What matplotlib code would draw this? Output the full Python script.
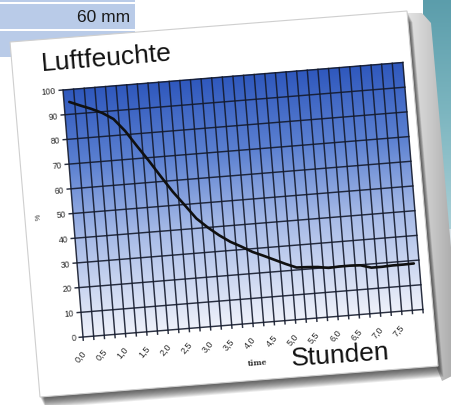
import numpy as np
import matplotlib
matplotlib.use("Agg")
import matplotlib.pyplot as plt
from matplotlib.transforms import Affine2D
from matplotlib.patches import Polygon, Rectangle
from matplotlib.colors import LinearSegmentedColormap

# ---------------- data ----------------
hours = [0.0, 0.25, 0.5, 0.75, 1.0, 1.25, 1.5, 1.75, 2.0, 2.25, 2.5, 2.75,
         3.0, 3.25, 3.5, 3.75, 4.0, 4.25, 4.5, 4.75, 5.0, 5.25, 5.5, 5.75,
         6.0, 6.25, 6.5, 6.75, 7.0, 7.25, 7.5, 7.75]
humidity = [95.0, 93.2, 91.5, 89.5, 86.7, 81.5, 75.0, 68.7, 62.0, 55.5, 49.8, 44.0,
            40.0, 36.5, 33.5, 31.2, 28.7, 26.8, 24.8, 22.8, 21.0, 20.8, 20.5, 19.8,
            20.0, 20.0, 19.8, 18.5, 18.5, 18.7, 18.7, 18.8]
x_tick_values = [0.0, 0.5, 1.0, 1.5, 2.0, 2.5, 3.0, 3.5, 4.0, 4.5, 5.0, 5.5, 6.0, 6.5, 7.0, 7.5]
x_tick_labels = ["0,0", "0,5", "1,0", "1,5", "2,0", "2,5", "3,0", "3,5", "4,0", "4,5",
                 "5,0", "5,5", "6,0", "6,5", "7,0", "7,5"]
y_tick_values = [0, 10, 20, 30, 40, 50, 60, 70, 80, 90, 100]
y_tick_labels = ["0", "10", "20", "30", "40", "50", "60", "70", "80", "90", "100"]
title_text = "Luftfeuchte"
unit_text = "Stunden"
x_axis_title = "time"
y_axis_title = "%"
header_text = "60 mm"

FONT = "Liberation Sans"
W, H = 452, 406
fig = plt.figure(figsize=(W / 100, H / 100), dpi=100)
fig.patch.set_facecolor("white")

# ---------------- background scene (image pixel coords) ----------------
bg = fig.add_axes([0, 0, 1, 1])
bg.set_xlim(0, W)
bg.set_ylim(H, 0)
bg.axis("off")

band_col = "#b9cbe8"
bg.add_patch(Rectangle((0, 0), 135, 2.5, color=band_col, lw=0))
bg.add_patch(Rectangle((0, 4.5), 135, 25, color=band_col, lw=0))
bg.add_patch(Rectangle((0, 32), 135, 26, color=band_col, lw=0))
bg.text(130, 17, header_text, ha="right", va="center", fontsize=12.5,
        family=FONT, color="#1a1a1a")

# teal panel on the right
teal = LinearSegmentedColormap.from_list("teal", ["#5b9dab", "#7db6c0", "#a9cfd6"])
tg = np.linspace(0, 1, 128).reshape(-1, 1)
bg.imshow(tg, cmap=teal, extent=(423, 452, 230, 0), aspect="auto", zorder=1,
          interpolation="bilinear")
bg.add_patch(Rectangle((436, 230), 16, 28, color="#dbe5ea", lw=0, zorder=1))

# card geometry
TL, TR, BR, BL = (10, 43), (407, 12), (438, 367), (40, 398)

# right-side curled shadow band
band_poly = Polygon([(405, 14), (422, 14), (431, 24), (462, 372), (442, 382), (436, 367)],
                    closed=True, fc="none", ec="none")
bg.add_patch(band_poly)
sg = LinearSegmentedColormap.from_list("sg", ["#e6e6e6", "#c6c6c6", "#a0a0a0"])
gimg = bg.imshow(np.linspace(0, 1, 128).reshape(1, -1), cmap=sg,
                 extent=(405, 462, 382, 14), aspect="auto", zorder=2,
                 interpolation="bilinear")
gimg.set_clip_path(band_poly)

# soft shadow under the card
for i in range(12):
    off = 1.0 + i * 0.9
    sh = Polygon([(TL[0] + off * 0.5, TL[1] + off), (TR[0] + off * 0.5, TR[1] + off),
                  (BR[0] + off * 0.5, BR[1] + off), (BL[0] + off * 0.5, BL[1] + off)],
                 closed=True, fc="#202020", ec="none", alpha=0.09, zorder=3)
    bg.add_patch(sh)

card = Polygon([TL, TR, BR, BL], closed=True, fc="white", ec="#cfcfcf", lw=0.8, zorder=4)
bg.add_patch(card)

bg.text(42, 71, title_text, ha="left", va="baseline", rotation=4.7,
        rotation_mode="anchor", fontsize=19, family=FONT, color="#111111", zorder=6)

# ---------------- chart (rotated axes) ----------------
X0, Y0, AW, AH = 83, 68, 341, 247.8
ANG = 4.63
ax = fig.add_axes([X0 / W, Y0 / H, AW / W, AH / H])
ax.axis("off")
rot = Affine2D().rotate_deg_around(X0, Y0, ANG)
T = ax.transData + rot

step = hours[1] - hours[0]
xmin, xmax = hours[0] - step / 2, hours[-1] + step / 2
ymin, ymax = y_tick_values[0], y_tick_values[-1]

grad_cmap = LinearSegmentedColormap.from_list(
    "bluegrad", [(0.0, "#eef1fa"), (0.4, "#a6bae7"), (0.7, "#5b80d1"), (1.0, "#2f58bd")])
g = np.linspace(0, 1, 256).reshape(-1, 1)
ax.imshow(g, cmap=grad_cmap, origin="lower", extent=(xmin, xmax, ymin, ymax),
          aspect="auto", transform=T, clip_on=False, zorder=0, interpolation="bilinear")

grid_col = "#141a2c"
boundaries = [xmin + step * k for k in range(len(hours) + 1)]
tick_len_y = 3.2 / AH * (ymax - ymin)
tick_len_x = 3.8 / AW * (xmax - xmin)
for b in boundaries:
    ax.plot([b, b], [ymin - tick_len_y, ymax], transform=T, color=grid_col, lw=1.05,
            clip_on=False, zorder=2, alpha=0.9)
for yv in y_tick_values:
    ax.plot([xmin - tick_len_x, xmax], [yv, yv], transform=T, color=grid_col, lw=1.05,
            clip_on=False, zorder=2, alpha=0.9)

ax.plot(hours, humidity, transform=T, color="#101010", lw=1.9, clip_on=False,
        zorder=4, solid_joinstyle="round", solid_capstyle="round")

for yv, lab in zip(y_tick_values, y_tick_labels):
    ax.text(xmin, yv, lab, transform=ax.transData + Affine2D().translate(-7, 0) + rot,
            rotation=ANG, ha="right", va="center", rotation_mode="anchor",
            fontsize=6.2, family=FONT, color="#2a2a2a", clip_on=False)

for xv, lab in zip(x_tick_values, x_tick_labels):
    ax.text(xv, ymin, lab, transform=ax.transData + Affine2D().translate(-5, -14) + rot,
            rotation=45 + ANG, ha="right", va="center",
            rotation_mode="anchor", fontsize=6.5, family=FONT, color="#2a2a2a",
            clip_on=False)

ax.text((xmin + xmax) / 2, ymin, x_axis_title,
        transform=ax.transData + Affine2D().translate(1, -39) + rot,
        rotation=ANG, ha="center", va="center", rotation_mode="anchor",
        fontsize=5.5, fontweight="bold", family="DejaVu Serif", color="#333333",
        clip_on=False)
ax.text(xmin, (ymin + ymax) / 2, y_axis_title,
        transform=ax.transData + Affine2D().translate(-34, 0) + rot,
        rotation=90 + ANG, ha="center", va="center",
        rotation_mode="anchor", fontsize=5, family=FONT, color="#333333", clip_on=False)

ax.set_xlim(xmin, xmax)
ax.set_ylim(ymin, ymax)

fig.text(292 / W, 1 - 366 / H, unit_text, ha="left", va="baseline", rotation=4.0,
         rotation_mode="anchor", fontsize=19, family=FONT, color="#111111", zorder=10)

fig.savefig("out.png", dpi=100)
